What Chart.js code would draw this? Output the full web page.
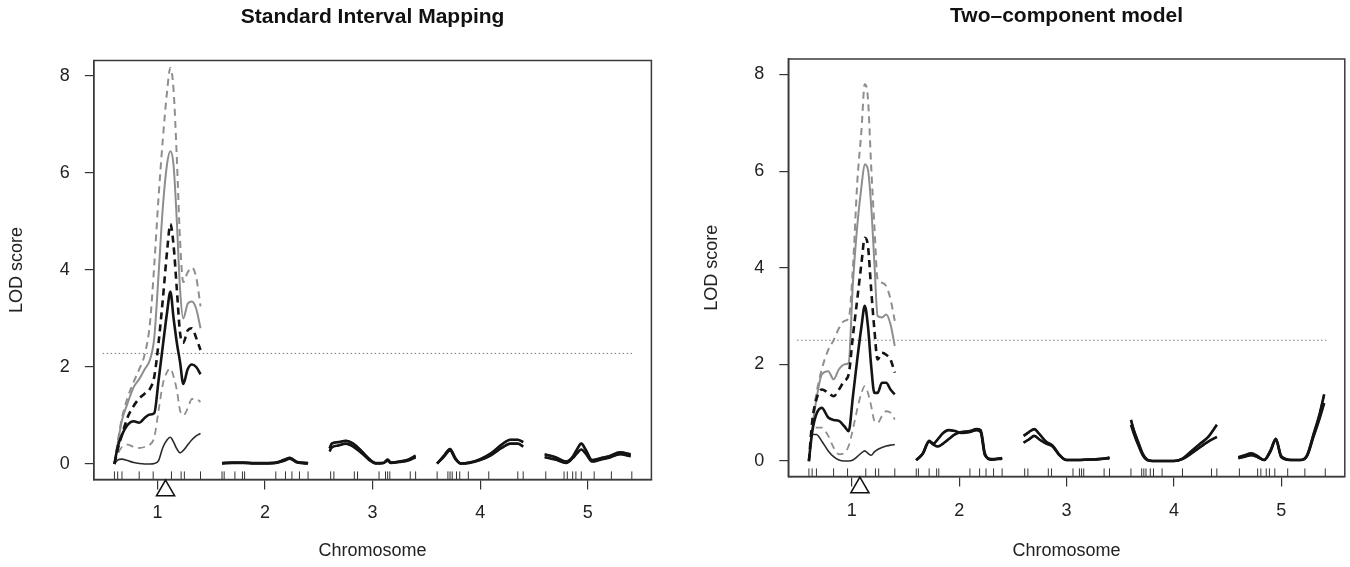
<!DOCTYPE html>
<html>
<head>
<meta charset="utf-8">
<script src="https://cdn.jsdelivr.net/npm/chart.js@4.4.1/dist/chart.umd.min.js"></script>
<style>
html,body{margin:0;padding:0;background:#fff;}
#wrap{position:relative;width:1350px;height:567px;overflow:hidden;background:#fff;}
.pane{position:absolute;top:0;height:567px;}
canvas{display:block;}
</style>
</head>
<body>
<div id="wrap">
  <div class="pane" style="left:0;width:672px"><canvas id="c1" width="672" height="567"></canvas></div>
  <div class="pane" style="left:694px;width:656px"><canvas id="c2" width="656" height="567"></canvas></div>
</div>
<script>
// ---------- axis ticks ----------
const xTicks = [1, 2, 3, 4, 5];
const yTicks = [0, 2, 4, 6, 8];

// ---------- marker map (rug) & QTL position ----------
const markerPos = [0.60, 0.63, 0.67, 0.83, 0.96, 1.13, 1.22, 1.25, 1.40,
  1.60, 1.62, 1.72, 1.79, 1.81, 2.10, 2.19, 2.25, 2.32, 2.40,
  2.61, 2.64, 2.83, 2.86, 3.06, 3.12, 3.14, 3.16, 3.35, 3.40,
  3.60, 3.70, 3.72, 3.74, 3.78, 3.81, 3.89, 4.08, 4.35, 4.40,
  4.61, 4.78, 4.81, 4.86, 4.89, 4.94, 5.06, 5.22, 5.41];
const qtlPos = [1.075];

// ---------- chromosome 1 grid (both panels) ----------
const chr1X = [0.60, 0.63, 0.67, 0.72, 0.78, 0.83, 0.88, 0.93, 0.97, 1.01, 1.05, 1.09, 1.12, 1.15, 1.18, 1.21, 1.24, 1.28, 1.32, 1.36, 1.40];

// ---------- Standard Interval Mapping: chromosome 1 ----------
const simGrayDashHi = [0, 0.45, 0.95, 1.35, 1.70, 1.95, 2.25, 2.90, 4.10, 5.50, 6.70, 7.70, 8.17, 7.70, 6.30, 4.60, 3.75, 3.95, 4.05, 3.85, 3.25];
const simGraySolid  = [0, 0.41, 0.90, 1.24, 1.59, 1.75, 1.95, 2.15, 2.60, 3.90, 5.30, 6.20, 6.45, 6.15, 5.00, 3.60, 3.00, 3.30, 3.35, 3.20, 2.80];
const simBlackDash  = [0, 0.30, 0.60, 0.95, 1.20, 1.35, 1.45, 1.55, 1.80, 2.50, 3.40, 4.40, 4.95, 4.50, 3.60, 2.70, 2.50, 2.75, 2.80, 2.60, 2.35];
const simBlackSolid = [0, 0.35, 0.60, 0.80, 0.88, 0.85, 0.95, 1.02, 1.05, 1.72, 2.44, 3.14, 3.55, 3.00, 2.50, 2.10, 1.65, 1.95, 2.05, 2.00, 1.85];
const simGrayDashLo = [0, 0.20, 0.35, 0.40, 0.35, 0.33, 0.35, 0.40, 0.55, 1.10, 1.65, 1.90, 1.97, 1.80, 1.52, 1.10, 1.00, 1.14, 1.34, 1.34, 1.28];
const simThin       = [0, 0.08, 0.10, 0.07, 0.03, 0.01, 0.00, 0.00, 0.01, 0.07, 0.34, 0.50, 0.55, 0.45, 0.31, 0.23, 0.28, 0.39, 0.50, 0.58, 0.63];

// ---------- Standard Interval Mapping: chromosomes 2-5 (upper / lower curves) ----------
const simChr2X  = [1.60, 1.70, 1.80, 1.90, 2.00, 2.10, 2.17, 2.23, 2.30, 2.40];
const simChr2Hi = [0.02, 0.03, 0.03, 0.02, 0.02, 0.03, 0.08, 0.13, 0.04, 0.02];
const simChr2Lo = [0.01, 0.02, 0.02, 0.01, 0.01, 0.02, 0.06, 0.11, 0.03, 0.01];
const simChr3X  = [2.60, 2.62, 2.68, 2.75, 2.82, 2.90, 2.97, 3.03, 3.10, 3.14, 3.17, 3.25, 3.33, 3.40];
const simChr3Hi = [0.32, 0.42, 0.45, 0.48, 0.42, 0.26, 0.10, 0.02, 0.02, 0.09, 0.03, 0.05, 0.09, 0.17];
const simChr3Lo = [0.26, 0.34, 0.38, 0.42, 0.36, 0.22, 0.08, 0.01, 0.02, 0.07, 0.02, 0.04, 0.07, 0.14];
const simChr4X  = [3.60, 3.66, 3.72, 3.77, 3.82, 3.90, 4.00, 4.10, 4.20, 4.28, 4.35, 4.40];
const simChr4Hi = [0.01, 0.16, 0.31, 0.12, 0.01, 0.03, 0.10, 0.22, 0.40, 0.50, 0.50, 0.45];
const simChr4Lo = [0.01, 0.14, 0.28, 0.10, 0.01, 0.02, 0.08, 0.18, 0.33, 0.42, 0.42, 0.36];
const simChr5X  = [4.60, 4.70, 4.80, 4.86, 4.90, 4.94, 4.98, 5.04, 5.12, 5.20, 5.30, 5.40];
const simChr5Hi = [0.20, 0.14, 0.05, 0.15, 0.30, 0.42, 0.30, 0.08, 0.12, 0.16, 0.24, 0.20];
const simChr5Lo = [0.14, 0.09, 0.02, 0.12, 0.22, 0.30, 0.22, 0.05, 0.09, 0.13, 0.20, 0.16];
const simThreshold = 2.28;

// ---------- Two-component model: chromosome 1 ----------
const tcmGrayDashHi = [0, 0.80, 1.40, 1.90, 2.30, 2.50, 2.75, 2.90, 2.95, 4.00, 5.75, 6.86, 7.80, 7.50, 6.10, 4.86, 3.76, 3.69, 3.62, 3.35, 2.90];
const tcmGraySolid  = [0, 0.66, 1.28, 1.79, 1.86, 1.69, 1.90, 2.00, 2.03, 3.69, 4.86, 5.69, 6.14, 6.03, 5.28, 4.10, 3.00, 2.97, 3.03, 2.83, 2.38];
const tcmBlackDash  = [0, 0.80, 1.28, 1.48, 1.41, 1.34, 1.48, 1.66, 1.79, 2.59, 3.34, 4.10, 4.62, 4.45, 3.55, 2.72, 2.10, 2.24, 2.20, 2.10, 1.83];
const tcmBlackSolid = [0, 0.59, 0.97, 1.10, 0.90, 0.85, 0.83, 0.72, 0.62, 1.34, 2.10, 2.79, 3.21, 2.79, 1.97, 1.41, 1.41, 1.62, 1.62, 1.48, 1.38];
const tcmGrayDashLo = [0, 0.66, 0.69, 0.69, 0.52, 0.28, 0.14, 0.17, 0.31, 0.66, 1.07, 1.41, 1.55, 1.41, 1.14, 0.83, 0.79, 0.93, 1.03, 1.00, 0.86];
const tcmThin       = [0, 0.55, 0.55, 0.41, 0.21, 0.09, 0.02, 0.00, 0.00, 0.02, 0.09, 0.17, 0.21, 0.16, 0.12, 0.19, 0.24, 0.28, 0.31, 0.33, 0.34];

// ---------- Two-component model: chromosomes 2-5 ----------
const tcmChr2X  = [1.60, 1.66, 1.72, 1.76, 1.80, 1.85, 1.90, 1.96, 2.02, 2.10, 2.16, 2.20, 2.24, 2.30, 2.40];
const tcmChr2Hi = [0.02, 0.15, 0.42, 0.36, 0.45, 0.58, 0.64, 0.62, 0.58, 0.60, 0.64, 0.60, 0.12, 0.04, 0.06];
const tcmChr2Lo = [0.02, 0.15, 0.40, 0.34, 0.30, 0.36, 0.45, 0.55, 0.60, 0.62, 0.66, 0.64, 0.15, 0.03, 0.05];
const tcmChr3X  = [2.60, 2.65, 2.70, 2.75, 2.81, 2.87, 2.93, 3.00, 3.10, 3.20, 3.30, 3.40];
const tcmChr3Hi = [0.52, 0.60, 0.66, 0.55, 0.40, 0.32, 0.14, 0.02, 0.02, 0.03, 0.04, 0.07];
const tcmChr3Lo = [0.38, 0.45, 0.52, 0.44, 0.36, 0.30, 0.13, 0.02, 0.02, 0.03, 0.04, 0.06];
const tcmChr4X  = [3.60, 3.63, 3.67, 3.71, 3.75, 3.80, 3.90, 4.00, 4.08, 4.16, 4.24, 4.32, 4.40];
const tcmChr4Hi = [0.85, 0.62, 0.38, 0.15, 0.03, 0.00, 0.00, 0.00, 0.05, 0.20, 0.35, 0.50, 0.75];
const tcmChr4Lo = [0.75, 0.55, 0.32, 0.12, 0.02, 0.00, 0.00, 0.00, 0.04, 0.15, 0.28, 0.40, 0.50];
const tcmChr5X  = [4.60, 4.66, 4.72, 4.78, 4.84, 4.90, 4.95, 5.00, 5.10, 5.18, 5.24, 5.30, 5.36, 5.40];
const tcmChr5Hi = [0.08, 0.12, 0.16, 0.10, 0.02, 0.22, 0.46, 0.10, 0.02, 0.02, 0.12, 0.55, 1.00, 1.38];
const tcmChr5Lo = [0.06, 0.09, 0.12, 0.08, 0.02, 0.20, 0.44, 0.08, 0.02, 0.02, 0.10, 0.50, 0.90, 1.20];
const tcmThreshold = 2.50;

const thresholdSpan = [0.49, 5.42];

// ---------- helpers ----------
Chart.defaults.font.family = '"Liberation Sans", Arial, Helvetica, sans-serif';
Chart.defaults.color = '#222';

const GRAY = '#8e8e8e', BLACK = '#141414', DARK = '#2b2b2b';
const X_MIN = 0.408, X_MAX = 5.592, Y_MIN = -0.32, Y_MAX = 8.32;
const RUG_Y = -0.24;

function seg(xs, ys) { return xs.map((x, i) => ({x: x, y: ys[i]})); }
function join(parts) {
  const out = [];
  parts.forEach((p, i) => {
    if (i > 0) out.push({x: (out[out.length - 1].x + p[0].x) / 2, y: null});
    out.push(...p);
  });
  return out;
}

const boxPlugin = {
  id: 'plotBox',
  afterDatasetsDraw(chart) {
    const a = chart.chartArea, ctx = chart.ctx;
    ctx.save();
    ctx.strokeStyle = '#3a3a3a';
    ctx.lineWidth = 1.5;
    ctx.strokeRect(a.left, a.top, a.right - a.left, a.bottom - a.top);
    ctx.restore();
  }
};
const qtlPlugin = {
  id: 'qtlMark',
  afterDraw(chart) {
    const xs = chart.scales.x, ctx = chart.ctx;
    qtlPos.forEach(q => {
      const px = xs.getPixelForValue(q);
      const py = chart.chartArea.bottom + 11;
      ctx.save();
      ctx.strokeStyle = '#111';
      ctx.fillStyle = '#fff';
      ctx.lineWidth = 1.5;
      Chart.helpers.drawPoint(ctx, {pointStyle: 'triangle', radius: 10.5, rotation: 0, borderWidth: 1.5}, px, py);
      ctx.restore();
    });
  }
};

function buildPanel(id, p) {
  const bands = {
    hi: [p.c2x, p.c2h, p.c3x, p.c3h, p.c4x, p.c4h, p.c5x, p.c5h],
    lo: [p.c2x, p.c2l, p.c3x, p.c3l, p.c4x, p.c4l, p.c5x, p.c5l]
  };
  const mk = (chr1Y, band) => {
    const b = bands[band];
    return join([seg(chr1X, chr1Y), seg(b[0], b[1]), seg(b[2], b[3]), seg(b[4], b[5]), seg(b[6], b[7])]);
  };
  const styles = [
    {y: p.blackSolid, band: 'lo', color: BLACK, width: 2.6, dash: []},
    {y: p.blackDash,  band: 'hi', color: BLACK, width: 2.6, dash: [7, 5]},
    {y: p.graySolid,  band: 'hi', color: GRAY,  width: 2.0, dash: []},
    {y: p.grayDashHi, band: 'hi', color: GRAY,  width: 2.0, dash: [7, 5]},
    {y: p.grayDashLo, band: 'lo', color: GRAY,  width: 1.8, dash: [7, 5]},
    {y: p.thin,       band: 'lo', color: DARK,  width: 1.6, dash: []}
  ];
  const datasets = styles.map(s => ({
    data: mk(s.y, s.band),
    showLine: true,
    borderColor: s.color,
    borderWidth: s.width,
    borderDash: s.dash,
    // on chromosomes 2-5 all curves overlap into one solid band
    segment: {borderDash: c => (c.p0.parsed.x > 1.5 ? [] : undefined)},
    pointRadius: 0,
    cubicInterpolationMode: 'monotone',
    spanGaps: false,
    fill: false
  }));
  datasets.push({
    data: thresholdSpan.map(x => ({x: x, y: p.threshold})),
    showLine: true, borderColor: '#777', borderWidth: 1, borderDash: [1.5, 2.5], pointRadius: 0
  });
  datasets.push({
    data: markerPos.map(x => ({x: x, y: RUG_Y})),
    showLine: false, pointStyle: 'line', rotation: 90, pointRadius: 4.2,
    borderColor: '#333', borderWidth: 1
  });

  return new Chart(document.getElementById(id), {
    type: 'scatter',
    data: {datasets: datasets},
    options: {
      responsive: false,
      animation: false,
      devicePixelRatio: 1,
      events: [],
      layout: {padding: {left: 0, right: p.padRight, top: 0, bottom: 0}},
      plugins: {
        legend: {display: false},
        tooltip: {enabled: false},
        title: {
          display: true, text: p.title, fullSize: false, color: '#111',
          font: {size: 21, weight: 'bold'},
          padding: {top: p.titleTop, bottom: p.titleBottom}
        }
      },
      scales: {
        x: {
          type: 'linear', min: X_MIN, max: X_MAX,
          afterBuildTicks: s => { s.ticks = xTicks.map(v => ({value: v})); },
          afterFit: s => { s.height = p.xAxisH; },
          ticks: {font: {size: 18}, color: '#222', padding: p.xTickPad, maxRotation: 0, autoSkip: false},
          grid: {display: true, drawOnChartArea: false, drawTicks: true, tickLength: 10, color: '#333', lineWidth: 1.2},
          border: {display: true, color: '#3a3a3a', width: 1.5},
          title: {display: true, text: 'Chromosome', font: {size: 18}, color: '#222', padding: {top: 0, bottom: 5}}
        },
        y: {
          type: 'linear', min: Y_MIN, max: Y_MAX,
          afterBuildTicks: s => { s.ticks = yTicks.map(v => ({value: v})); },
          afterFit: s => { s.width = p.yAxisW; },
          ticks: {font: {size: 18}, color: '#222', padding: 15},
          grid: {display: true, drawOnChartArea: false, drawTicks: true, tickLength: 9, color: '#333', lineWidth: 1.2},
          border: {display: true, color: '#3a3a3a', width: 1.5},
          title: {display: true, text: 'LOD score', font: {size: 18}, color: '#222', padding: {top: p.yTitlePad, bottom: 0}}
        }
      }
    },
    plugins: [boxPlugin, qtlPlugin]
  });
}

buildPanel('c1', {
  title: 'Standard Interval Mapping',
  grayDashHi: simGrayDashHi, graySolid: simGraySolid, blackDash: simBlackDash,
  blackSolid: simBlackSolid, grayDashLo: simGrayDashLo, thin: simThin,
  c2x: simChr2X, c2h: simChr2Hi, c2l: simChr2Lo,
  c3x: simChr3X, c3h: simChr3Hi, c3l: simChr3Lo,
  c4x: simChr4X, c4h: simChr4Hi, c4l: simChr4Lo,
  c5x: simChr5X, c5h: simChr5Hi, c5l: simChr5Lo,
  threshold: simThreshold,
  padRight: 20.6, yAxisW: 93.8, xAxisH: 87.5, xTickPad: 12.7,
  titleTop: 4.9, titleBottom: 30.4, yTitlePad: 6.2
});

buildPanel('c2', {
  title: 'Two\u2013component model',
  grayDashHi: tcmGrayDashHi, graySolid: tcmGraySolid, blackDash: tcmBlackDash,
  blackSolid: tcmBlackSolid, grayDashLo: tcmGrayDashLo, thin: tcmThin,
  c2x: tcmChr2X, c2h: tcmChr2Hi, c2l: tcmChr2Lo,
  c3x: tcmChr3X, c3h: tcmChr3Hi, c3l: tcmChr3Lo,
  c4x: tcmChr4X, c4h: tcmChr4Hi, c4l: tcmChr4Lo,
  c5x: tcmChr5X, c5h: tcmChr5Hi, c5l: tcmChr5Lo,
  threshold: tcmThreshold,
  padRight: 4.3, yAxisW: 94.3, xAxisH: 90.5, xTickPad: 13.7,
  titleTop: 3.4, titleBottom: 30.4, yTitlePad: 7.2
});
</script>
</body>
</html>
